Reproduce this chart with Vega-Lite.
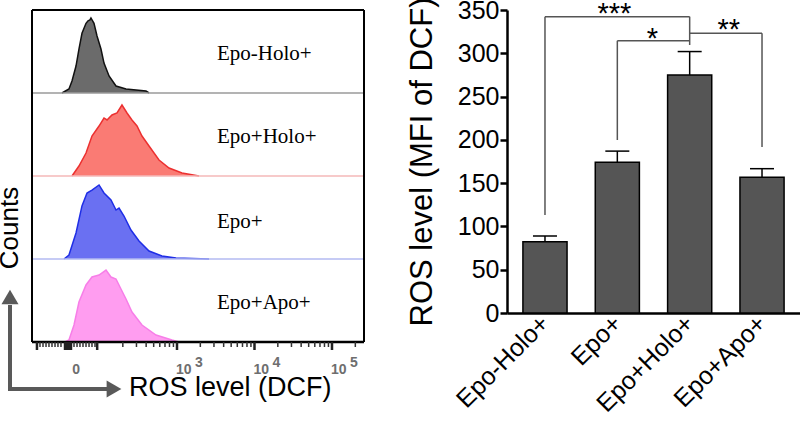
{
  "$schema": "https://vega.github.io/schema/vega-lite/v6.json",
  "padding": {"left": -4, "top": -3, "right": 0, "bottom": 0},
  "config": {"view": {"stroke": null}, "font": "Liberation Sans"},
  "datasets": {
    "hist": [
      {"s": "Epo-Holo+", "d": 1.516, "f": 0},
      {"s": "Epo-Holo+", "d": 1.606, "f": 0.048},
      {"s": "Epo-Holo+", "d": 1.645, "f": 0.145},
      {"s": "Epo-Holo+", "d": 1.697, "f": 0.325},
      {"s": "Epo-Holo+", "d": 1.735, "f": 0.53},
      {"s": "Epo-Holo+", "d": 1.774, "f": 0.72},
      {"s": "Epo-Holo+", "d": 1.826, "f": 0.84},
      {"s": "Epo-Holo+", "d": 1.852, "f": 0.87},
      {"s": "Epo-Holo+", "d": 1.877, "f": 0.88},
      {"s": "Epo-Holo+", "d": 1.890, "f": 0.904},
      {"s": "Epo-Holo+", "d": 1.929, "f": 0.84},
      {"s": "Epo-Holo+", "d": 1.968, "f": 0.687},
      {"s": "Epo-Holo+", "d": 2.019, "f": 0.53},
      {"s": "Epo-Holo+", "d": 2.058, "f": 0.36},
      {"s": "Epo-Holo+", "d": 2.123, "f": 0.205},
      {"s": "Epo-Holo+", "d": 2.213, "f": 0.084},
      {"s": "Epo-Holo+", "d": 2.342, "f": 0.048},
      {"s": "Epo-Holo+", "d": 2.600, "f": 0.024},
      {"s": "Epo-Holo+", "d": 2.639, "f": 0},
      {"s": "Epo+Holo+", "d": 1.645, "f": 0},
      {"s": "Epo+Holo+", "d": 1.735, "f": 0.12},
      {"s": "Epo+Holo+", "d": 1.826, "f": 0.277},
      {"s": "Epo+Holo+", "d": 1.903, "f": 0.482},
      {"s": "Epo+Holo+", "d": 1.994, "f": 0.602},
      {"s": "Epo+Holo+", "d": 2.058, "f": 0.699},
      {"s": "Epo+Holo+", "d": 2.097, "f": 0.675},
      {"s": "Epo+Holo+", "d": 2.161, "f": 0.735},
      {"s": "Epo+Holo+", "d": 2.226, "f": 0.759},
      {"s": "Epo+Holo+", "d": 2.290, "f": 0.855},
      {"s": "Epo+Holo+", "d": 2.355, "f": 0.759},
      {"s": "Epo+Holo+", "d": 2.419, "f": 0.675},
      {"s": "Epo+Holo+", "d": 2.484, "f": 0.602},
      {"s": "Epo+Holo+", "d": 2.548, "f": 0.482},
      {"s": "Epo+Holo+", "d": 2.639, "f": 0.361},
      {"s": "Epo+Holo+", "d": 2.768, "f": 0.193},
      {"s": "Epo+Holo+", "d": 2.897, "f": 0.096},
      {"s": "Epo+Holo+", "d": 3.065, "f": 0.036},
      {"s": "Epo+Holo+", "d": 3.284, "f": 0},
      {"s": "Epo+", "d": 1.542, "f": 0},
      {"s": "Epo+", "d": 1.606, "f": 0.048},
      {"s": "Epo+", "d": 1.697, "f": 0.313},
      {"s": "Epo+", "d": 1.774, "f": 0.639},
      {"s": "Epo+", "d": 1.839, "f": 0.795},
      {"s": "Epo+", "d": 1.903, "f": 0.831},
      {"s": "Epo+", "d": 1.994, "f": 0.892},
      {"s": "Epo+", "d": 2.058, "f": 0.795},
      {"s": "Epo+", "d": 2.148, "f": 0.711},
      {"s": "Epo+", "d": 2.213, "f": 0.59},
      {"s": "Epo+", "d": 2.252, "f": 0.614},
      {"s": "Epo+", "d": 2.316, "f": 0.518},
      {"s": "Epo+", "d": 2.406, "f": 0.349},
      {"s": "Epo+", "d": 2.510, "f": 0.217},
      {"s": "Epo+", "d": 2.639, "f": 0.096},
      {"s": "Epo+", "d": 2.806, "f": 0.036},
      {"s": "Epo+", "d": 2.987, "f": 0.012},
      {"s": "Epo+", "d": 3.413, "f": 0},
      {"s": "Epo+Apo+", "d": 1.555, "f": 0},
      {"s": "Epo+Apo+", "d": 1.606, "f": 0.024},
      {"s": "Epo+Apo+", "d": 1.671, "f": 0.205},
      {"s": "Epo+Apo+", "d": 1.735, "f": 0.482},
      {"s": "Epo+Apo+", "d": 1.826, "f": 0.687},
      {"s": "Epo+Apo+", "d": 1.903, "f": 0.783},
      {"s": "Epo+Apo+", "d": 1.994, "f": 0.807},
      {"s": "Epo+Apo+", "d": 2.084, "f": 0.867},
      {"s": "Epo+Apo+", "d": 2.148, "f": 0.783},
      {"s": "Epo+Apo+", "d": 2.213, "f": 0.759},
      {"s": "Epo+Apo+", "d": 2.277, "f": 0.639},
      {"s": "Epo+Apo+", "d": 2.342, "f": 0.518},
      {"s": "Epo+Apo+", "d": 2.419, "f": 0.361},
      {"s": "Epo+Apo+", "d": 2.548, "f": 0.205},
      {"s": "Epo+Apo+", "d": 2.729, "f": 0.084},
      {"s": "Epo+Apo+", "d": 2.935, "f": 0.024},
      {"s": "Epo+Apo+", "d": 3.026, "f": 0}
    ],
    "ticks": [
      {"d": 1.193, "k": "L"}, {"d": 1.555, "k": "L"}, {"d": 1.568, "k": "L"}, {"d": 1.581, "k": "L"},
      {"d": 1.594, "k": "L"}, {"d": 1.606, "k": "L"}, {"d": 1.619, "k": "L"}, {"d": 1.632, "k": "L"},
      {"d": 1.97, "k": "L"}, {"d": 3, "k": "L"}, {"d": 4, "k": "L"}, {"d": 5, "k": "L"},
      {"d": 1.232, "k": "S"}, {"d": 1.271, "k": "S"}, {"d": 1.310, "k": "S"}, {"d": 1.348, "k": "S"},
      {"d": 1.387, "k": "S"}, {"d": 1.426, "k": "S"}, {"d": 1.464, "k": "S"}, {"d": 1.503, "k": "S"},
      {"d": 1.671, "k": "S"}, {"d": 1.710, "k": "S"}, {"d": 1.748, "k": "S"}, {"d": 1.787, "k": "S"},
      {"d": 1.826, "k": "S"}, {"d": 1.865, "k": "S"}, {"d": 1.903, "k": "S"}, {"d": 1.942, "k": "S"},
      {"d": 2.301, "k": "S"}, {"d": 2.477, "k": "S"}, {"d": 2.602, "k": "S"}, {"d": 2.699, "k": "S"},
      {"d": 2.778, "k": "S"}, {"d": 2.845, "k": "S"}, {"d": 2.903, "k": "S"}, {"d": 2.954, "k": "S"},
      {"d": 3.301, "k": "S"}, {"d": 3.477, "k": "S"}, {"d": 3.602, "k": "S"}, {"d": 3.699, "k": "S"},
      {"d": 3.778, "k": "S"}, {"d": 3.845, "k": "S"}, {"d": 3.903, "k": "S"}, {"d": 3.954, "k": "S"},
      {"d": 4.301, "k": "S"}, {"d": 4.477, "k": "S"}, {"d": 4.602, "k": "S"}, {"d": 4.699, "k": "S"},
      {"d": 4.778, "k": "S"}, {"d": 4.845, "k": "S"}, {"d": 4.903, "k": "S"}, {"d": 4.954, "k": "S"},
      {"d": 5.301, "k": "S"}
    ],
    "tlab": [
      {"d": 3, "b": "10", "e": "3"},
      {"d": 4, "b": "10", "e": "4"},
      {"d": 5, "b": "10", "e": "5"}
    ],
    "bars": [
      {"g": "Epo-Holo+", "mean": 82.4, "upper": 89},
      {"g": "Epo+", "mean": 174, "upper": 187},
      {"g": "Epo+Holo+", "mean": 275, "upper": 302},
      {"g": "Epo+Apo+", "mean": 156.7, "upper": 166.7}
    ],
    "brh": [
      {"g": "Epo-Holo+", "g2": "Epo+Holo+", "y": 342.3},
      {"g": "Epo+", "g2": "Epo+Holo+", "y": 314.5},
      {"g": "Epo+Holo+", "g2": "Epo+Apo+", "y": 323.1}
    ],
    "brv": [
      {"g": "Epo-Holo+", "y1": 113.2, "y2": 342.3},
      {"g": "Epo+", "y1": 199.8, "y2": 314.5},
      {"g": "Epo+Apo+", "y1": 191.8, "y2": 323.1},
      {"g": "Epo+Holo+", "y1": 309.6, "y2": 342.3}
    ]
  },
  "hconcat": [
    {
      "vconcat": [
        {
          "width": 332, "height": 83,
          "layer": [
            {"data": {"name": "hist"}, "transform": [{"filter": "datum.s === 'Epo-Holo+'"}],
             "mark": {"type": "area", "color": "#6b6b6b", "opacity": 1, "clip": false},
             "encoding": {"x": {"field": "d", "type": "quantitative", "scale": {"domain": [1.129, 5.413], "nice": false, "zero": false}, "axis": null},
                          "y": {"field": "f", "type": "quantitative", "scale": {"domain": [0, 1], "nice": false}, "axis": null}}},
            {"data": {"name": "hist"}, "transform": [{"filter": "datum.s === 'Epo-Holo+'"}],
             "mark": {"type": "line", "color": "#111111", "strokeWidth": 1.5},
             "encoding": {"x": {"field": "d", "type": "quantitative"}, "y": {"field": "f", "type": "quantitative"}}},
            {"data": {"values": [{}]}, "mark": {"type": "rule", "color": "#9a9a9a", "strokeWidth": 1.5}, "encoding": {"y": {"datum": 0}}},
            {"data": {"values": [{}]}, "mark": {"type": "rule", "color": "#000000", "strokeWidth": 2}, "encoding": {"y": {"datum": 1}}},
            {"data": {"values": [{}]}, "mark": {"type": "rule", "color": "#000000", "strokeWidth": 2}, "encoding": {"x": {"datum": 1.129}}},
            {"data": {"values": [{}]}, "mark": {"type": "rule", "color": "#000000", "strokeWidth": 2}, "encoding": {"x": {"datum": 5.413}}},
            {"data": {"values": [{}]}, "mark": {"type": "text", "font": "Liberation Serif", "fontSize": 21, "align": "left", "baseline": "alphabetic", "text": "Epo-Holo+"},
             "encoding": {"x": {"datum": 3.516}, "y": {"datum": 0.4}}}
          ]
        },
        {
          "width": 332, "height": 83,
          "layer": [
            {"data": {"name": "hist"}, "transform": [{"filter": "datum.s === 'Epo+Holo+'"}],
             "mark": {"type": "area", "color": "#fa7b74", "opacity": 1, "clip": false},
             "encoding": {"x": {"field": "d", "type": "quantitative", "scale": {"domain": [1.129, 5.413], "nice": false, "zero": false}, "axis": null},
                          "y": {"field": "f", "type": "quantitative", "scale": {"domain": [0, 1], "nice": false}, "axis": null}}},
            {"data": {"name": "hist"}, "transform": [{"filter": "datum.s === 'Epo+Holo+'"}],
             "mark": {"type": "line", "color": "#ec3030", "strokeWidth": 1.5},
             "encoding": {"x": {"field": "d", "type": "quantitative"}, "y": {"field": "f", "type": "quantitative"}}},
            {"data": {"values": [{}]}, "mark": {"type": "rule", "color": "#f4b8b8", "strokeWidth": 1.5}, "encoding": {"y": {"datum": 0}}},
            {"data": {"values": [{}]}, "mark": {"type": "rule", "color": "#000000", "strokeWidth": 2}, "encoding": {"x": {"datum": 1.129}}},
            {"data": {"values": [{}]}, "mark": {"type": "rule", "color": "#000000", "strokeWidth": 2}, "encoding": {"x": {"datum": 5.413}}},
            {"data": {"values": [{}]}, "mark": {"type": "text", "font": "Liberation Serif", "fontSize": 21, "align": "left", "baseline": "alphabetic", "text": "Epo+Holo+"},
             "encoding": {"x": {"datum": 3.516}, "y": {"datum": 0.4}}}
          ]
        },
        {
          "width": 332, "height": 83,
          "layer": [
            {"data": {"name": "hist"}, "transform": [{"filter": "datum.s === 'Epo+'"}],
             "mark": {"type": "area", "color": "#6a70f2", "opacity": 1, "clip": false},
             "encoding": {"x": {"field": "d", "type": "quantitative", "scale": {"domain": [1.129, 5.413], "nice": false, "zero": false}, "axis": null},
                          "y": {"field": "f", "type": "quantitative", "scale": {"domain": [0, 1], "nice": false}, "axis": null}}},
            {"data": {"name": "hist"}, "transform": [{"filter": "datum.s === 'Epo+'"}],
             "mark": {"type": "line", "color": "#1f2ee6", "strokeWidth": 1.5},
             "encoding": {"x": {"field": "d", "type": "quantitative"}, "y": {"field": "f", "type": "quantitative"}}},
            {"data": {"values": [{}]}, "mark": {"type": "rule", "color": "#b3baf2", "strokeWidth": 1.5}, "encoding": {"y": {"datum": 0}}},
            {"data": {"values": [{}]}, "mark": {"type": "rule", "color": "#000000", "strokeWidth": 2}, "encoding": {"x": {"datum": 1.129}}},
            {"data": {"values": [{}]}, "mark": {"type": "rule", "color": "#000000", "strokeWidth": 2}, "encoding": {"x": {"datum": 5.413}}},
            {"data": {"values": [{}]}, "mark": {"type": "text", "font": "Liberation Serif", "fontSize": 21, "align": "left", "baseline": "alphabetic", "text": "Epo+"},
             "encoding": {"x": {"datum": 3.516}, "y": {"datum": 0.37}}}
          ]
        },
        {
          "width": 332, "height": 83,
          "layer": [
            {"data": {"name": "hist"}, "transform": [{"filter": "datum.s === 'Epo+Apo+'"}],
             "mark": {"type": "area", "color": "#ff9df0", "opacity": 1, "clip": false},
             "encoding": {"x": {"field": "d", "type": "quantitative", "scale": {"domain": [1.129, 5.413], "nice": false, "zero": false}, "axis": null},
                          "y": {"field": "f", "type": "quantitative", "scale": {"domain": [0, 1], "nice": false}, "axis": null}}},
            {"data": {"name": "hist"}, "transform": [{"filter": "datum.s === 'Epo+Apo+'"}],
             "mark": {"type": "line", "color": "#f77ee8", "strokeWidth": 1.5},
             "encoding": {"x": {"field": "d", "type": "quantitative"}, "y": {"field": "f", "type": "quantitative"}}},
            {"data": {"values": [{}]}, "mark": {"type": "rule", "color": "#000000", "strokeWidth": 2.5}, "encoding": {"y": {"datum": 0}}},
            {"data": {"values": [{}]}, "mark": {"type": "rule", "color": "#000000", "strokeWidth": 2}, "encoding": {"x": {"datum": 1.129}}},
            {"data": {"values": [{}]}, "mark": {"type": "rule", "color": "#000000", "strokeWidth": 2}, "encoding": {"x": {"datum": 5.413}}},
            {"data": {"values": [{}]}, "mark": {"type": "text", "font": "Liberation Serif", "fontSize": 21, "align": "left", "baseline": "alphabetic", "text": "Epo+Apo+"},
             "encoding": {"x": {"datum": 3.516}, "y": {"datum": 0.4}}}
          ]
        },
        {
          "width": 332, "height": 34,
          "layer": [
            {"data": {"name": "ticks"}, "transform": [{"filter": "datum.k === 'L'"}],
             "mark": {"type": "rule", "color": "#222222", "strokeWidth": 2.5, "clip": false},
             "encoding": {"x": {"field": "d", "type": "quantitative", "scale": {"domain": [1.129, 5.413], "nice": false, "zero": false}, "axis": null},
                          "y": {"datum": 0, "scale": {"domain": [0, 34], "nice": false, "reverse": true}, "axis": null}, "y2": {"datum": 8}}},
            {"data": {"name": "ticks"}, "transform": [{"filter": "datum.k === 'S'"}],
             "mark": {"type": "rule", "color": "#333333", "strokeWidth": 1.5, "clip": false},
             "encoding": {"x": {"field": "d", "type": "quantitative"}, "y": {"datum": 0}, "y2": {"datum": 5}}},
            {"data": {"name": "tlab"},
             "mark": {"type": "text", "align": "left", "baseline": "alphabetic", "fontSize": 14, "fontWeight": "bold", "color": "#6e6e6e", "dx": -1},
             "encoding": {"x": {"field": "d", "type": "quantitative"}, "y": {"datum": 32}, "text": {"field": "b"}}},
            {"data": {"name": "tlab"},
             "mark": {"type": "text", "align": "left", "baseline": "alphabetic", "fontSize": 14, "fontWeight": "bold", "color": "#6e6e6e", "dx": 18},
             "encoding": {"x": {"field": "d", "type": "quantitative"}, "y": {"datum": 25}, "text": {"field": "e"}}},
            {"data": {"values": [{}]},
             "mark": {"type": "text", "align": "center", "baseline": "alphabetic", "fontSize": 14, "fontWeight": "bold", "color": "#6e6e6e", "text": "0"},
             "encoding": {"x": {"datum": 1.697}, "y": {"datum": 32}}},
            {"data": {"values": [{}]},
             "mark": {"type": "rule", "color": "#595959", "strokeWidth": 4, "clip": false},
             "encoding": {"x": {"datum": 0.845}, "y": {"datum": -37}, "y2": {"datum": 49}}},
            {"data": {"values": [{}]},
             "mark": {"type": "rule", "color": "#595959", "strokeWidth": 4, "clip": false},
             "encoding": {"x": {"datum": 0.82}, "x2": {"datum": 2.11}, "y": {"datum": 47}}},
            {"data": {"values": [{}]},
             "mark": {"type": "point", "shape": "triangle-up", "size": 290, "filled": true, "color": "#595959", "opacity": 1, "clip": false},
             "encoding": {"x": {"datum": 0.845}, "y": {"datum": -45}}},
            {"data": {"values": [{}]},
             "mark": {"type": "point", "shape": "triangle-right", "size": 290, "filled": true, "color": "#595959", "opacity": 1, "clip": false},
             "encoding": {"x": {"datum": 2.187}, "y": {"datum": 47}}},
            {"data": {"values": [{}]},
             "mark": {"type": "text", "angle": 270, "align": "center", "baseline": "middle", "fontSize": 26, "color": "#000000", "text": "Counts", "clip": false},
             "encoding": {"x": {"datum": 0.845}, "y": {"datum": -114}}},
            {"data": {"values": [{}]},
             "mark": {"type": "text", "align": "left", "baseline": "alphabetic", "fontSize": 27, "color": "#000000", "text": "ROS level (DCF)", "clip": false},
             "encoding": {"x": {"datum": 2.38}, "y": {"datum": 54}}}
          ]
        }
      ],
      "spacing": 0,
      "bounds": "flush"
    },
    {
      "width": 293, "height": 303,
      "layer": [
        {"data": {"name": "bars"},
         "mark": {"type": "bar", "fill": "#555555", "stroke": "#000000", "strokeWidth": 1.5},
         "encoding": {
           "x": {"field": "g", "type": "nominal", "title": null,
                 "scale": {"domain": ["Epo-Holo+", "Epo+", "Epo+Holo+", "Epo+Apo+"], "paddingInner": 0.39, "paddingOuter": 0.22},
                 "axis": {"ticks": false, "domainColor": "#000000", "domainWidth": 2.5, "labelAngle": -45, "labelAlign": "right", "labelBaseline": "middle", "labelFontSize": 25, "labelColor": "#000000", "labelPadding": 6}},
           "y": {"field": "mean", "type": "quantitative", "title": "ROS level (MFI of DCF)",
                 "scale": {"domain": [0, 350], "nice": false},
                 "axis": {"values": [0, 50, 100, 150, 200, 250, 300, 350], "grid": false, "domainColor": "#000000", "domainWidth": 2.5, "tickColor": "#000000", "tickWidth": 2.5, "tickSize": 7, "labelFontSize": 25, "labelColor": "#000000", "labelPadding": 1, "titleFontSize": 31, "titleFontWeight": "normal", "titleColor": "#000000", "titlePadding": 19}}
         }},
        {"data": {"name": "bars"},
         "mark": {"type": "rule", "color": "#000000", "strokeWidth": 1.5},
         "encoding": {"x": {"field": "g", "type": "nominal"}, "y": {"field": "mean", "type": "quantitative"}, "y2": {"field": "upper"}}},
        {"data": {"name": "bars"},
         "mark": {"type": "tick", "orient": "horizontal", "color": "#000000", "size": 24, "thickness": 1.5, "opacity": 1},
         "encoding": {"x": {"field": "g", "type": "nominal"}, "y": {"field": "upper", "type": "quantitative"}}},
        {"data": {"name": "brh"},
         "mark": {"type": "rule", "color": "#555555", "strokeWidth": 1.5, "clip": false},
         "encoding": {"x": {"field": "g", "type": "nominal"}, "x2": {"field": "g2"}, "y": {"field": "y", "type": "quantitative"}}},
        {"data": {"name": "brv"},
         "mark": {"type": "rule", "color": "#555555", "strokeWidth": 1.5, "clip": false},
         "encoding": {"x": {"field": "g", "type": "nominal"}, "y": {"field": "y1", "type": "quantitative"}, "y2": {"field": "y2"}}},
        {"data": {"values": [{}]},
         "mark": {"type": "text", "text": "***", "fontSize": 29, "align": "center", "baseline": "alphabetic", "dx": -3, "clip": false},
         "encoding": {"x": {"datum": "Epo+"}, "y": {"datum": 335}}},
        {"data": {"values": [{}]},
         "mark": {"type": "text", "text": "*", "fontSize": 29, "align": "center", "baseline": "alphabetic", "dx": 35, "clip": false},
         "encoding": {"x": {"datum": "Epo+"}, "y": {"datum": 306}}},
        {"data": {"values": [{}]},
         "mark": {"type": "text", "text": "**", "fontSize": 29, "align": "center", "baseline": "alphabetic", "dx": 39, "clip": false},
         "encoding": {"x": {"datum": "Epo+Holo+"}, "y": {"datum": 316.5}}}
      ]
    }
  ],
  "spacing": 475,
  "bounds": "flush"
}
